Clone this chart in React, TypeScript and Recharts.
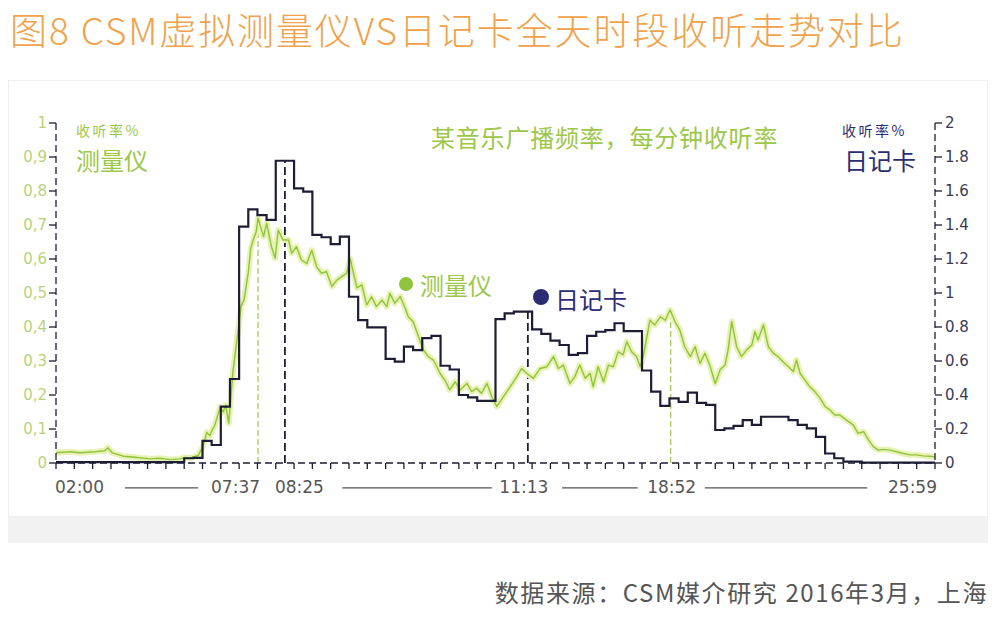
import React from "react";
import { LineChart, Line, XAxis, YAxis, ReferenceLine } from "recharts";

// minutes after 02:00
const meterTime = [
  0, 23, 39, 64, 80, 85, 92, 110, 129, 154,
  170, 187, 203, 211, 220, 233, 241, 247, 252, 256,
  260, 269, 274, 278, 283, 290, 297, 303, 308, 315,
  319, 323, 328, 331, 336, 340, 345, 353, 359, 364,
  372, 381, 386, 394, 402, 411, 419, 427, 435, 443,
  452, 460, 468, 476, 482, 493, 501, 509, 517, 525,
  534, 542, 547, 555, 564, 572, 577, 585, 594, 602,
  610, 618, 624, 629, 637, 645, 654, 662, 673, 681,
  689, 697, 706, 714, 722, 733, 744, 755, 763, 771,
  782, 793, 804, 815, 823, 831, 842, 850, 858, 867,
  875, 880, 888, 897, 905, 913, 921, 929, 935, 943,
  951, 957, 962, 968, 973, 981, 990, 998, 1006, 1014,
  1022, 1030, 1039, 1047, 1055, 1063, 1071, 1080, 1088, 1096,
  1101, 1107, 1115, 1123, 1131, 1140, 1145, 1150, 1159, 1167,
  1175, 1183, 1191, 1200, 1208, 1213, 1219, 1227, 1235, 1243,
  1252, 1260, 1268, 1276, 1284, 1295, 1306, 1314, 1323, 1331,
  1339, 1347, 1355, 1366, 1377, 1388, 1399, 1410, 1421, 1435,
  1440,
];

// 测量仪 rating %, left axis
const meterRating = [
  0.03, 0.033, 0.03, 0.033, 0.036, 0.045, 0.03, 0.02, 0.017, 0.012,
  0.014, 0.01, 0.012, 0.016, 0.015, 0.022, 0.05, 0.09, 0.08, 0.097,
  0.11, 0.165, 0.15, 0.17, 0.117, 0.27, 0.37, 0.46, 0.48, 0.56,
  0.63, 0.656, 0.68, 0.72, 0.69, 0.666, 0.705, 0.636, 0.602, 0.685,
  0.656, 0.656, 0.617, 0.636, 0.597, 0.587, 0.626, 0.577, 0.558, 0.563,
  0.519, 0.538, 0.548, 0.558, 0.6, 0.515, 0.524, 0.465, 0.489, 0.46,
  0.479, 0.46, 0.499, 0.47, 0.49, 0.455, 0.43, 0.416, 0.371, 0.332,
  0.313, 0.303, 0.283, 0.264, 0.244, 0.215, 0.239, 0.215, 0.234, 0.21,
  0.22, 0.205, 0.234, 0.195, 0.166, 0.195, 0.224, 0.254, 0.278, 0.264,
  0.249, 0.278, 0.283, 0.313, 0.278, 0.288, 0.234, 0.254, 0.288, 0.249,
  0.264, 0.224, 0.283, 0.239, 0.288, 0.283, 0.327, 0.318, 0.357, 0.327,
  0.313, 0.283, 0.313, 0.371, 0.42, 0.406, 0.43, 0.42, 0.45, 0.416,
  0.391, 0.342, 0.313, 0.342, 0.293, 0.323, 0.288, 0.234, 0.274, 0.288,
  0.332, 0.416, 0.342, 0.313, 0.332, 0.347, 0.386, 0.362, 0.406, 0.342,
  0.323, 0.313, 0.298, 0.283, 0.269, 0.303, 0.264, 0.244, 0.224, 0.21,
  0.19, 0.166, 0.156, 0.141, 0.141, 0.126, 0.112, 0.087, 0.092, 0.068,
  0.048, 0.038, 0.04, 0.038, 0.033, 0.028, 0.024, 0.024, 0.021, 0.019,
  0.018,
];

// 日记卡 rating %, right axis, one value per quarter hour from 02:00
const diaryRating = [
  0.005, 0.005, 0.005, 0.005, 0.005, 0.005, 0.005, 0.005, 0.005, 0.005, 0.005, 0.005, 0.005, 0.005,
  0.028, 0.03,
  0.13, 0.106, 0.332, 0.494,
  1.39, 1.492, 1.458, 1.43,
  1.778, 1.778, 1.616, 1.596,
  1.342, 1.328, 1.288, 1.332,
  0.978, 0.84, 0.798, 0.798,
  0.612, 0.596, 0.684, 0.664,
  0.734, 0.748, 0.572, 0.55,
  0.4, 0.386, 0.366, 0.366,
  0.846, 0.88, 0.89, 0.89,
  0.786, 0.76, 0.72, 0.694,
  0.636, 0.646, 0.748, 0.772,
  0.782, 0.822, 0.776, 0.776,
  0.544, 0.42, 0.336, 0.38,
  0.36, 0.414, 0.354, 0.342,
  0.194, 0.204, 0.218, 0.252,
  0.224, 0.272, 0.272, 0.272,
  0.252, 0.224, 0.204, 0.154,
  0.056, 0.028, 0.008, 0.008,
  0.002, 0.002, 0.002, 0.002, 0.002, 0.002, 0.002, 0.002,
];

const leftTicks = [0, 0.1, 0.2, 0.3, 0.4, 0.5, 0.6, 0.7, 0.8, 0.9, 1];
const rightTicks = [0, 0.2, 0.4, 0.6, 0.8, 1, 1.2, 1.4, 1.6, 1.8, 2];
const halfHourTicks = Array.from({ length: 49 }, (_, i) => i * 30);

const axisLabelTimes = [0, 331, 375, 773, 1007, 1440];
const axisLabels = ["02:00", "07:37", "08:25", "11:13", "18:52", "25:59"];

// dashed markers: time and the rating they reach (left axis)
const markTimes = [331, 375, 773, 1007];
const markPeaks = [0.72, 0.89, 0.445, 0.45];
const markKinds = ["meter", "diary", "diary", "meter"];

// the rules drawn between the time labels
const spanStarts = [113, 469, 829, 1063];
const spanEnds = [233, 714, 953, 1329];
const spanLevel = -0.073;

const meterData = meterTime.map((t, i) => ({ t, v: meterRating[i] }));
const diaryData = [
  ...diaryRating.map((v, i) => ({ t: i * 15, v })),
  { t: 1440, v: diaryRating[diaryRating.length - 1] },
];
const xTicks = Array.from(new Set([...halfHourTicks, ...axisLabelTimes])).sort((a, b) => a - b);

const GREEN = "#8fc43c";
const GREEN_TEXT = "#9cc74a";
const NAVY = "#2b2c72";
const DARK = "#1d1d35";
const CJK = '"Noto Sans CJK SC", "Noto Sans", sans-serif';

const labelStyle: Record<string, { anchor: "start" | "middle" | "end"; dx: number }> = {
  "02:00": { anchor: "start", dx: -1 },
  "07:37": { anchor: "end", dx: 2 },
  "08:25": { anchor: "start", dx: -10 },
  "11:13": { anchor: "middle", dx: -4 },
  "18:52": { anchor: "middle", dx: 1 },
  "25:59": { anchor: "end", dx: 2 },
};

function TimeTick(props: any) {
  const { x, y, payload } = props;
  const v = payload.value;
  const idx = axisLabelTimes.indexOf(v);
  const lab = idx >= 0 ? axisLabels[idx] : null;
  return (
    <g>
      {v % 30 === 0 && <line x1={x} y1={y} x2={x} y2={y + 6} stroke={DARK} strokeWidth={1.3} />}
      {lab && (
        <text
          x={x + labelStyle[lab].dx}
          y={y + 30}
          textAnchor={labelStyle[lab].anchor}
          fill="#555"
          fontSize={17}
          fontFamily="DejaVu Sans"
        >
          {lab}
        </text>
      )}
    </g>
  );
}

const abs = (left: number, top: number, extra: React.CSSProperties = {}): React.CSSProperties => ({
  position: "absolute",
  left,
  top,
  lineHeight: 1,
  whiteSpace: "nowrap",
  fontFamily: CJK,
  ...extra,
});

export default function App() {
  return (
    <div style={{ position: "absolute", left: 0, top: 0, width: 1005, height: 630, background: "#fff", overflow: "hidden" }}>
      <div style={abs(10, 11, { fontSize: 37, color: "#f0a24c", fontWeight: 300, letterSpacing: 1.9 })}>
        图8 CSM虚拟测量仪VS日记卡全天时段收听走势对比
      </div>

      <div style={{ position: "absolute", left: 8, top: 80, width: 980, height: 463, background: "#f2f2f2" }} />
      <div style={{ position: "absolute", left: 8, top: 80, width: 980, height: 437, background: "#fff", border: "1px solid #efefef", boxSizing: "border-box" }} />

      <div style={{ position: "absolute", left: 0, top: 0 }}>
        <LineChart width={1005} height={630} margin={{ top: 123, right: 20, bottom: 127, left: 16 }}>
          <XAxis
            dataKey="t"
            type="number"
            domain={[0, 1440]}
            ticks={xTicks}
            interval={0}
            tickSize={0}
            tickMargin={0}
            tickLine={false}
            height={40}
            axisLine={{ stroke: DARK, strokeWidth: 1.3, strokeDasharray: "7 4" }}
            tick={<TimeTick />}
          />
          <YAxis
            yAxisId="left"
            orientation="left"
            width={40}
            domain={[0, 1]}
            ticks={leftTicks}
            interval={0}
            tickSize={7}
            tickMargin={2}
            axisLine={{ stroke: DARK, strokeWidth: 1.3, strokeDasharray: "7 4" }}
            tickLine={{ stroke: DARK, strokeWidth: 1.3 }}
            tick={{ fill: "#b9d27a", fontSize: 15, fontFamily: "DejaVu Sans" }}
            tickFormatter={(v: number) => (v === 0 || v === 1 ? String(v) : v.toFixed(1).replace(".", ","))}
          />
          <YAxis
            yAxisId="right"
            orientation="right"
            width={50}
            domain={[0, 2]}
            ticks={rightTicks}
            interval={0}
            tickSize={7}
            tickMargin={3}
            axisLine={{ stroke: DARK, strokeWidth: 1.3, strokeDasharray: "7 4" }}
            tickLine={{ stroke: DARK, strokeWidth: 1.3 }}
            tick={{ fill: "#3a3a58", fontSize: 15, fontFamily: "DejaVu Sans" }}
            tickFormatter={(v: number) => (Number.isInteger(v) ? String(v) : v.toFixed(1))}
          />

          {markTimes.map((t, i) => (
            <ReferenceLine
              key={"m" + t}
              yAxisId="left"
              segment={[{ x: t, y: 0 }, { x: t, y: markPeaks[i] }]}
              stroke={markKinds[i] === "meter" ? "#a9c95a" : DARK}
              strokeWidth={markKinds[i] === "meter" ? 1.3 : 1.8}
              strokeDasharray={markKinds[i] === "meter" ? "6 3" : "8 4"}
            />
          ))}
          {spanStarts.map((s, i) => (
            <ReferenceLine
              key={"s" + s}
              yAxisId="left"
              ifOverflow="visible"
              segment={[{ x: s, y: spanLevel }, { x: spanEnds[i], y: spanLevel }]}
              stroke="#555"
              strokeWidth={1.2}
            />
          ))}

          <Line yAxisId="left" data={meterData} dataKey="v" type="linear" stroke="#e8f2b4" strokeWidth={6} strokeLinejoin="round" dot={false} activeDot={false} isAnimationActive={false} />
          <Line yAxisId="left" data={meterData} dataKey="v" type="linear" stroke={GREEN} strokeWidth={1.4} strokeLinejoin="round" dot={false} activeDot={false} isAnimationActive={false} />
          <Line yAxisId="right" data={diaryData} dataKey="v" type="stepAfter" stroke={DARK} strokeWidth={2.2} dot={false} activeDot={false} isAnimationActive={false} />
        </LineChart>
      </div>

      <div style={abs(76, 123, { fontSize: 14, letterSpacing: 2.5, color: GREEN_TEXT })}>收听率%</div>
      <div style={abs(76, 148, { fontSize: 24, color: GREEN_TEXT })}>测量仪</div>
      <div style={abs(431, 125, { fontSize: 24, letterSpacing: 0.8, color: GREEN_TEXT })}>某音乐广播频率，每分钟收听率</div>
      <div style={abs(842, 123, { fontSize: 14, letterSpacing: 2.5, color: NAVY })}>收听率%</div>
      <div style={abs(844, 148, { fontSize: 24, color: NAVY })}>日记卡</div>

      <div style={{ position: "absolute", left: 399, top: 277, width: 14, height: 14, borderRadius: 7, background: GREEN }} />
      <div style={abs(420, 273, { fontSize: 24, color: GREEN_TEXT })}>测量仪</div>
      <div style={{ position: "absolute", left: 533, top: 289, width: 16, height: 16, borderRadius: 8, background: NAVY }} />
      <div style={abs(555, 287, { fontSize: 24, color: NAVY })}>日记卡</div>

      <div style={abs(0, 580, { right: 17, left: "auto", fontSize: 24, letterSpacing: 1.6, color: "#555" } as React.CSSProperties)}>
        数据来源：CSM媒介研究 2016年3月，上海
      </div>
    </div>
  );
}
